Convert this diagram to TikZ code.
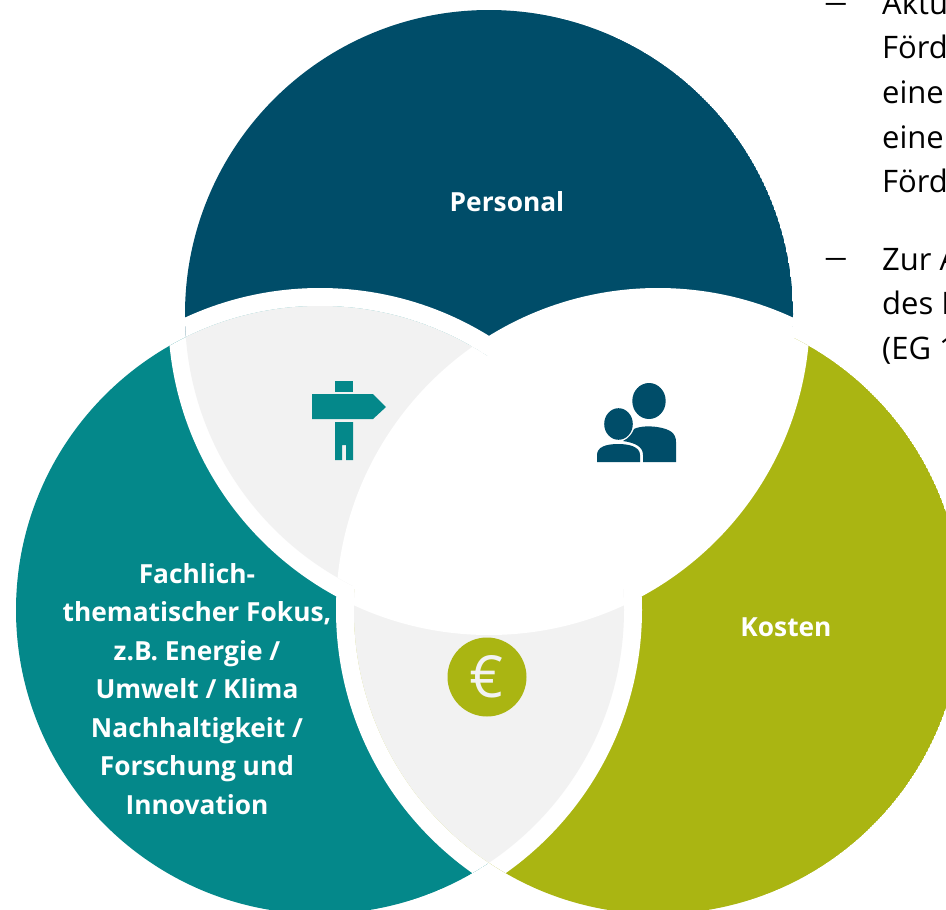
\documentclass[tikz,border=0pt]{standalone}
\usepackage{fontspec}
\setmainfont{Open Sans}
\newfontfamily\dashfont{Liberation Serif}
\definecolor{cblue}{HTML}{004D69}
\definecolor{cteal}{HTML}{04888A}
\definecolor{colive}{HTML}{AAB512}
\definecolor{cgray}{HTML}{F2F2F2}
\tikzset{
  lab/.style={text=white,font=\bfseries\fontsize{26.3}{38.5}\selectfont,align=center,inner sep=0pt},
  body/.style={text=black,font=\fontsize{31}{43}\selectfont,align=left,inner sep=0pt,anchor=base west},
  dashmark/.style={text=black,font=\dashfont\fontsize{39}{43}\selectfont,inner sep=0pt,anchor=base west}
}
\def\topC{(489,314) circle[radius=304]}
\def\leftC{(320,610) circle[radius=304]}
\def\rightC{(658,610) circle[radius=304]}
\def\topW{(489,314) circle[radius=321]}
\def\leftW{(320,610) circle[radius=322]}
\def\rightW{(658,610) circle[radius=322]}
\begin{document}
\begin{tikzpicture}[x=1pt,y=-1pt]
\useasboundingbox (0,0) rectangle (946,910);
\clip (0,0) rectangle (946,910);
\fill[white] (0,0) rectangle (946,910);
% blue segment
\begin{scope}
  \clip \topC;
  \fill[cblue] \topC;
  \fill[white] \leftW;
  \fill[white] \rightW;
\end{scope}
% teal segment
\begin{scope}
  \clip \leftC;
  \fill[cteal] \leftC;
  \fill[white] \topW;
  \fill[white] \rightW;
\end{scope}
% olive segment
\begin{scope}
  \clip \rightC;
  \fill[colive] \rightC;
  \fill[white] \topW;
  \fill[white] \leftW;
\end{scope}
% gray top-left lens
\begin{scope}
  \clip \topC;
  \clip \leftC;
  \fill[cgray] (0,0) rectangle (946,910);
  \fill[white] \rightW;
\end{scope}
% gray bottom lens
\begin{scope}
  \clip \leftC;
  \clip \rightC;
  \fill[cgray] (0,0) rectangle (946,910);
  \fill[white] \topW;
\end{scope}
% clean white top-right lens (removes edge fringes)
\begin{scope}
  \clip (489,314) circle[radius=306];
  \fill[white] (658,610) circle[radius=306];
\end{scope}
% signpost icon
\fill[cteal] (335,381) rectangle (353,392);
\fill[cteal] (312,394) -- (373,394) -- (386,407) -- (373,419) -- (312,419) -- cycle;
\fill[cteal] (335,422) -- (353,422) -- (353,460) -- (346,460) -- (346,445) -- (342,445) -- (342,460) -- (335,460) -- cycle;
% people icon
\fill[cblue] (649,401) ellipse[x radius=16.7,y radius=18];
\fill[cblue] (618.5,424) ellipse[x radius=14.3,y radius=15.8];
\fill[cblue] (623,441) .. controls (629,438) and (632,434) .. (634,429)
  .. controls (640,426) and (650,426) .. (657,427)
  .. controls (670,429) and (676,433) .. (676,442)
  -- (676,462) -- (643,462) -- (643,455)
  .. controls (643,447) and (636,443) .. (623,441) -- cycle;
\fill[cblue] (597,462) -- (597,455) .. controls (597,447) and (606,444) .. (618,444)
  .. controls (630,444) and (640,447) .. (640,455) -- (640,462) -- cycle;
% euro badge
\node[circle,fill=colive,minimum size=79pt,inner sep=0pt,text=cgray,font=\fontsize{58}{58}\selectfont] (euro) at (487,677) {€};
% labels
\node[lab] (personal) at (507,202) {Personal};
\node[lab] (kosten) at (786,627) {Kosten};
\node[lab] (fokus) at (197,689) {Fachlich-\\thematischer Fokus,\\z.B. Energie /\\Umwelt / Klima\\Nachhaltigkeit /\\Forschung und\\Innovation};
% clipped body text
\node[dashmark] (d1) at (826,13) {–};
\node[dashmark] (d2) at (826,268) {–};
\node[body] (t1) at (882,14) {Aktu};
\node[body] (t2) at (882,58) {Förd};
\node[body] (t3) at (882,103) {eine};
\node[body] (t4) at (882,148) {eine};
\node[body] (t5) at (882,192) {Förd};
\node[body] (t6) at (882,270) {Zur A};
\node[body] (t7) at (882,314) {des F};
\node[body] (t8) at (882,359) {(EG 1};
\end{tikzpicture}
\end{document}
